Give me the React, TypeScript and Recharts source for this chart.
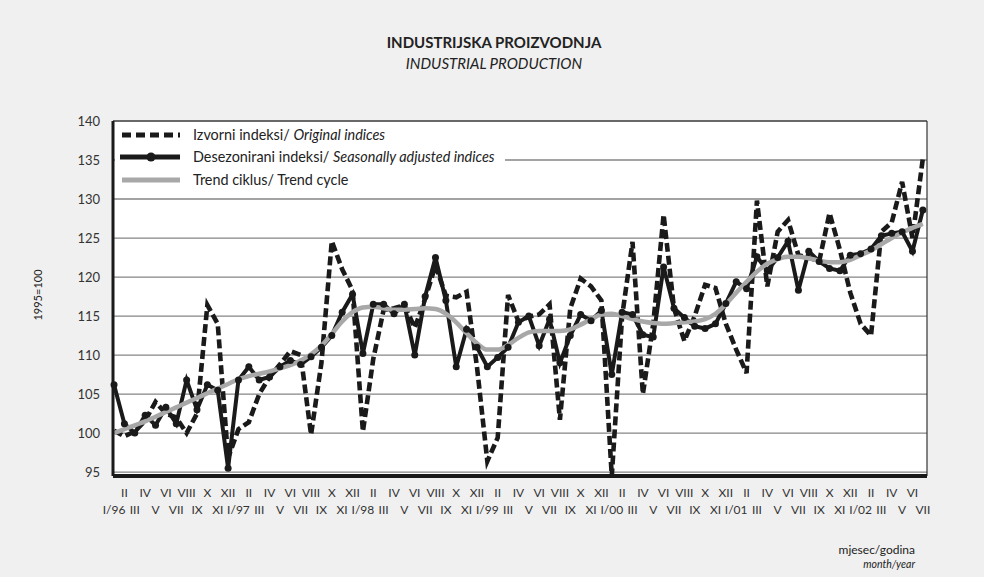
import { CartesianGrid, Line, LineChart, ReferenceLine, XAxis, YAxis } from "recharts";

const months = ["I", "II", "III", "IV", "V", "VI", "VII", "VIII", "IX", "X", "XI", "XII"];
const years = ["96", "97", "98", "99", "00", "01", "02"];
const yTicks = [95, 100, 105, 110, 115, 120, 125, 130, 135, 140];

// Izvorni indeksi / original indices, I/96 - VII/02
const original = [
  100.3, 99.6, 100.2, 101.6, 104, 102.5, 102, 100, 102.5, 116.4, 114, 96.8,
  100.5, 101.4, 105, 107.2, 108.8, 110.5, 110, 99.8, 109, 124.6, 121, 118.3,
  100.2, 109.5, 115.8, 116, 116.4, 113.5, 117.2, 121.5, 117.6, 117.4, 118.1, 108.5,
  96.4, 99.4, 117.7, 114.3, 114.9, 115.2, 116.5, 101.7, 116, 119.8, 118.8, 117,
  94.5, 115, 124.5, 105, 114, 128, 116, 111.8, 115, 119, 118.6, 114,
  110.7, 107.7, 129.8, 118.8, 125.8, 127.3, 122.8, 122.5, 122, 128.2, 123.5, 118,
  114, 112.5, 125.8, 127, 132.2, 125, 135.2,
];

// Desezonirani indeksi / seasonally adjusted
const seasonallyAdjusted = [
  106.2, 101.2, 100, 102.3, 101, 103.3, 101.2, 106.8, 103, 106.2, 105.5, 95.5,
  106.8, 108.5, 106.8, 107.2, 108.5, 109.3, 108.8, 109.8, 111, 112.5, 115.5, 117.8,
  110.2, 116.5, 116.5, 115.3, 116.5, 110, 117.5, 122.5, 117, 108.5, 113.3, 111,
  108.5, 109.7, 111, 114.2, 115, 111.2, 114.6, 109, 112.5, 115.2, 114.4, 115.7,
  107.5, 115.5, 115.2, 112.6, 112.3, 121.3, 116, 114.8, 113.7, 113.4, 114, 116.6,
  119.4, 118.5, 122.6, 120.8, 122.5, 124.6, 118.3, 123.3, 122, 121.1, 120.8, 122.8,
  123, 123.6, 125.3, 125.6, 125.8, 123.3, 128.6,
];

// Trend ciklus / trend cycle
const trend = [
  100, 100.5, 101, 101.5, 102.1, 102.7, 103.3, 103.9, 104.5, 105.1, 105.7, 106.3,
  106.9, 107.3, 107.6, 107.9, 108.3, 108.7, 109.3, 110.1, 111.2, 112.7, 114.3, 115.5,
  116.1, 116.2, 116, 115.8, 115.8, 115.9, 116, 115.9, 115.3, 114.2, 112.8, 111.5,
  110.7, 110.7, 111.3, 112.2, 112.9, 113.1, 113.1, 113.1, 113.3, 113.9, 114.6, 115.2,
  115.3, 115, 114.6, 114.3, 114.1, 114, 114.1, 114.2, 114.3, 114.6, 115.3, 116.5,
  118, 119.4, 120.7, 121.7, 122.3, 122.6, 122.6, 122.4, 122.1, 121.9, 121.9, 122.2,
  122.8, 123.4, 124.2, 125, 125.7, 126.3, 126.8,
];

const data = original.map((v, i) => ({
  i,
  original: v,
  adjusted: seasonallyAdjusted[i],
  trend: trend[i],
}));
const xTicks = data.map((d) => d.i);

const font = "Lato, 'Open Sans', sans-serif";
const ink = "#1a1a1a";

function monthLabel(i: number) {
  const m = i % 12;
  return m === 0 ? `I/${years[Math.floor(i / 12)]}` : months[m];
}

const MonthTick = ({ x, y, payload }: any) => {
  const i = payload.value as number;
  const lower = i % 2 === 0;
  return (
    <text x={x} y={y + (lower ? 38 : 21)} textAnchor="middle" fontSize={12} fill="#333" fontFamily={font}>
      {monthLabel(i)}
    </text>
  );
};

// legend drawn by hand, the box hides the 135 gridline like in the original
const LegendBox = () => (
  <svg width={390} height={75} style={{ display: "block" }}>
    <line x1={7} x2={65} y1={13} y2={13} stroke={ink} strokeWidth={5} strokeDasharray="9 5" />
    <line x1={5} x2={65} y1={35} y2={35} stroke={ink} strokeWidth={5} />
    <circle cx={36} cy={35} r={4.5} fill={ink} />
    <line x1={7} x2={65} y1={58} y2={58} stroke="#a8a8a8" strokeWidth={5} />
    <g fontFamily={font} fontSize={14.4} fill="#222">
      <text x={78} y={18}>
        Izvorni indeksi/ <tspan fontStyle="italic">Original indices</tspan>
      </text>
      <text x={78} y={40}>
        Desezonirani indeksi/ <tspan fontStyle="italic">Seasonally adjusted indices</tspan>
      </text>
      <text x={78} y={63}>Trend ciklus/ Trend cycle</text>
    </g>
  </svg>
);

export default function App() {
  return (
    <div
      style={{
        position: "absolute",
        left: 0,
        top: 0,
        width: 984,
        height: 577,
        background: "#f0f0f0",
        fontFamily: font,
        color: "#222",
      }}
    >
      <div style={{ position: "absolute", left: 0, width: 988, top: 33, textAlign: "center", fontWeight: 700, fontSize: 15 }}>
        INDUSTRIJSKA PROIZVODNJA
      </div>
      <div style={{ position: "absolute", left: 0, width: 988, top: 54, textAlign: "center", fontStyle: "italic", fontSize: 15 }}>
        INDUSTRIAL PRODUCTION
      </div>
      <div
        style={{
          position: "absolute",
          left: 37,
          top: 295,
          transform: "translate(-50%, -50%) rotate(-90deg)",
          fontSize: 11,
          whiteSpace: "nowrap",
        }}
      >
        1995=100
      </div>
      <div style={{ position: "absolute", right: 69, top: 542, fontSize: 12, textAlign: "right" }}>mjesec/godina</div>
      <div style={{ position: "absolute", right: 69, top: 558, fontSize: 10.5, fontStyle: "italic", textAlign: "right" }}>
        month/year
      </div>

      <div style={{ position: "absolute", left: 113, top: 121, width: 814, height: 355, background: "#fff" }} />

      <LineChart
        width={984}
        height={577}
        data={data}
        margin={{ top: 121, right: 57, bottom: 0, left: 0 }}
        style={{ position: "absolute", left: 0, top: 0 }}
      >
        <CartesianGrid horizontal vertical={false} stroke="#858585" strokeWidth={1.3} />
        <XAxis
          type="number"
          dataKey="i"
          domain={[-0.1, 78.4]}
          ticks={xTicks}
          interval={0}
          height={101}
          tick={<MonthTick />}
          tickSize={0}
          tickMargin={0}
          tickLine={false}
          axisLine={{ stroke: ink, strokeWidth: 4 }}
        />
        <YAxis
          domain={[95, 140]}
          ticks={yTicks}
          width={113}
          tickSize={0}
          tickMargin={13}
          tickLine={false}
          axisLine={{ stroke: ink, strokeWidth: 3 }}
          tick={{ fontSize: 13, fill: "#333", fontFamily: font }}
        />
        <ReferenceLine y={140} stroke="#333" strokeWidth={1.2} />
        <ReferenceLine x={78.4} stroke="#333" strokeWidth={1.2} />
        <Line
          dataKey="adjusted"
          stroke={ink}
          strokeWidth={4}
          dot={{ r: 3.5, fill: ink, stroke: "none" }}
          isAnimationActive={false}
        />
        <Line dataKey="original" stroke={ink} strokeWidth={4.6} strokeDasharray="9 4" dot={false} isAnimationActive={false} />
        <Line type="monotone" dataKey="trend" stroke="#a8a8a8" strokeWidth={4.5} dot={false} isAnimationActive={false} />
      </LineChart>

      <div style={{ position: "absolute", left: 115, top: 122, width: 390, height: 75, background: "#fff" }}>
        <LegendBox />
      </div>
    </div>
  );
}
